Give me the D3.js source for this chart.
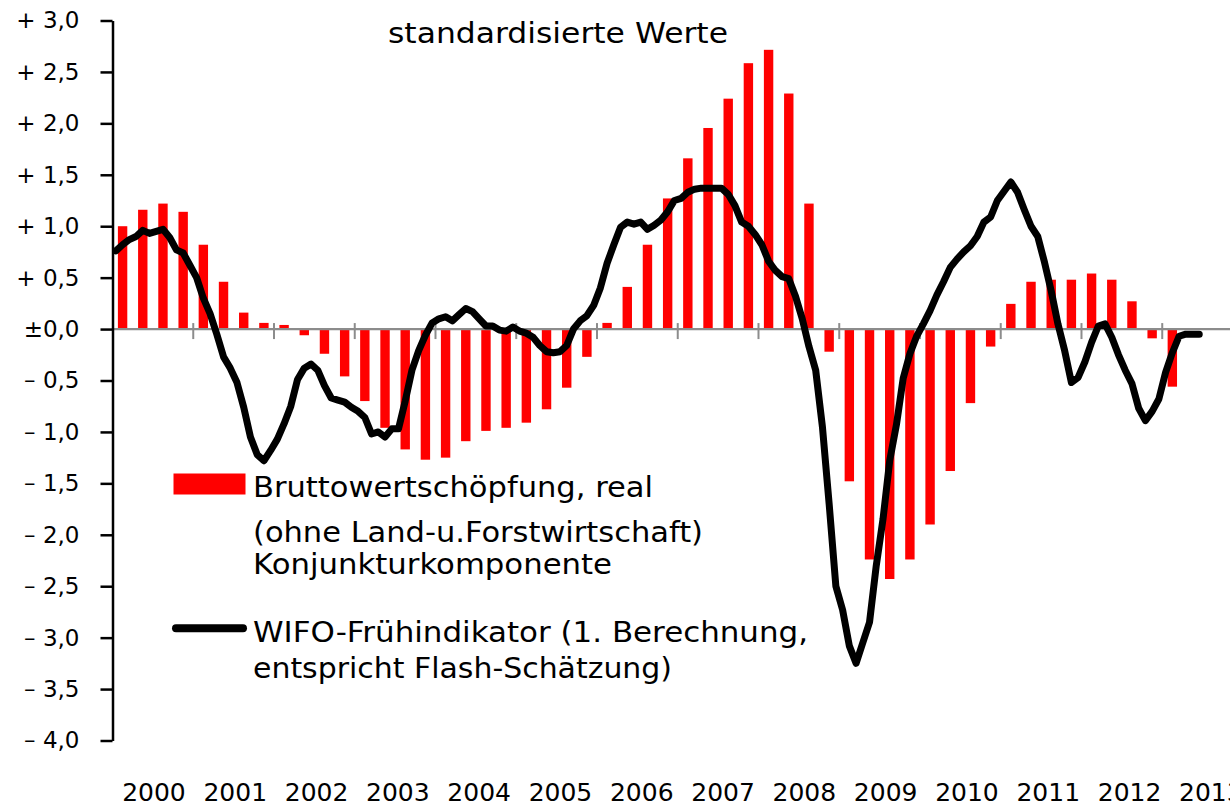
<!DOCTYPE html>
<html>
<head>
<meta charset="utf-8">
<script src="https://cdn.jsdelivr.net/npm/d3@7/dist/d3.min.js"></script>
<style>
  html, body { margin: 0; padding: 0; background: #fff; }
  svg { display: block; }
  text { font-family: "DejaVu Sans", sans-serif; fill: #000; }
</style>
</head>
<body>
<script>
// ---------- DATA ----------
const years = ["2000","2001","2002","2003","2004","2005","2006","2007","2008","2009","2010","2011","2012","2013"];
const yTicks = [-4,-3.5,-3,-2.5,-2,-1.5,-1,-0.5,0,0.5,1,1.5,2,2.5,3];

// Bruttowertschöpfung, real – quarterly (2000Q1 .. 2013Q1)
const bwsQuarterly = [
  1.00, 1.16, 1.22, 1.14,
  0.82, 0.46, 0.16, 0.06,
  0.04, -0.06, -0.24, -0.46,
  -0.70, -0.96, -1.17, -1.27,
  -1.25, -1.09, -0.99, -0.96,
  -0.91, -0.78, -0.57, -0.27,
  0.06, 0.41, 0.82, 1.27,
  1.66, 1.955, 2.24, 2.585,
  2.715, 2.29, 1.22, -0.22,
  -1.48, -2.24, -2.43, -2.24,
  -1.90, -1.38, -0.72, -0.17,
  0.245, 0.46, 0.48, 0.48,
  0.54, 0.48, 0.27, -0.09,
  -0.56
];

// WIFO-Frühindikator – monthly (2000-01 .. 2013-06)
const wifoMonthly = [
  0.76, 0.82, 0.87, 0.90, 0.96, 0.93, 0.95, 0.97, 0.89, 0.77, 0.74, 0.62,
  0.50, 0.30, 0.15, -0.05, -0.27, -0.38, -0.52, -0.76, -1.05, -1.22, -1.28, -1.18,
  -1.07, -0.92, -0.75, -0.49, -0.38, -0.34, -0.40, -0.55, -0.67, -0.69, -0.71, -0.76,
  -0.80, -0.86, -1.02, -1.00, -1.05, -0.97, -0.97, -0.70, -0.40, -0.21, -0.06, 0.06,
  0.10, 0.12, 0.08, 0.14, 0.20, 0.17, 0.10, 0.03, 0.03, -0.01, -0.02, 0.02,
  -0.02, -0.04, -0.08, -0.16, -0.22, -0.23, -0.22, -0.16, 0.00, 0.08, 0.13, 0.23,
  0.40, 0.64, 0.82, 0.99, 1.04, 1.02, 1.04, 0.97, 1.01, 1.06, 1.14, 1.25,
  1.27, 1.33, 1.36, 1.37, 1.37, 1.37, 1.37, 1.31, 1.20, 1.04, 1.00, 0.92,
  0.82, 0.66, 0.57, 0.51, 0.49, 0.32, 0.10, -0.17, -0.40, -0.95, -1.70, -2.50,
  -2.73, -3.08, -3.25, -3.05, -2.85, -2.30, -1.85, -1.28, -0.93, -0.48, -0.24, -0.07,
  0.05, 0.18, 0.33, 0.46, 0.60, 0.68, 0.75, 0.81, 0.90, 1.04, 1.09, 1.25,
  1.34, 1.43, 1.33, 1.16, 1.00, 0.90, 0.65, 0.37, 0.05, -0.21, -0.52, -0.47,
  -0.32, -0.13, 0.03, 0.05, -0.08, -0.25, -0.40, -0.53, -0.77, -0.89, -0.80, -0.68,
  -0.42, -0.23, -0.07, -0.05, -0.05, -0.05
];

const titleText = "standardisierte Werte";
const legendBars = ["Bruttowertschöpfung, real", "(ohne Land-u.Forstwirtschaft)", "Konjunkturkomponente"];
const legendLine = ["WIFO-Frühindikator (1. Berechnung,", "entspricht Flash-Schätzung)"];

// ---------- CHART ----------
const W = 1230, H = 808;
const svg = d3.select("body").append("svg").attr("width", W).attr("height", H);

const y = d3.scaleLinear().domain([-4, 3]).range([740.5, 20.5]);
const x = d3.scaleLinear().domain([0, 13.75]).range([112.5, 1222.8]); // years since 2000
const xLabel = d3.scaleBand().domain(years).range([113.3, 113.3 + 14 * 81.3]);

const fmt = v => {
  const s = Math.abs(v).toFixed(1).replace(".", ",");
  if (v > 0) return "+ " + s;
  if (v < 0) return "\u2013 " + s;
  return "\u00B10,0";
};

// bars
const barW = 9.4;
svg.append("g").selectAll("rect").data(bwsQuarterly).join("rect")
  .attr("x", (d, i) => x(i / 4 + 0.125) - barW / 2)
  .attr("width", barW)
  .attr("y", d => y(Math.max(0, d)))
  .attr("height", d => Math.abs(y(d) - y(0)))
  .attr("fill", "#ff0000");

// zero line
const y0 = y(0);
svg.append("line")
  .attr("x1", x(0)).attr("x2", W)
  .attr("y1", y0).attr("y2", y0)
  .attr("stroke", "#8c8c8c").attr("stroke-width", 2.2);

// year ticks on zero line
svg.append("g").selectAll("line").data(d3.range(1, 14)).join("line")
  .attr("x1", d => x(d)).attr("x2", d => x(d))
  .attr("y1", y0 - 6).attr("y2", y0 + 10)
  .attr("stroke", "#8c8c8c").attr("stroke-width", 2);

// y axis
const yAxis = d3.axisLeft(y).tickValues(yTicks).tickSize(12).tickSizeOuter(0).tickPadding(21).tickFormat(fmt);
const gy = svg.append("g").attr("transform", `translate(${x(0)},0)`).call(yAxis);
gy.select(".domain").attr("stroke", "#000").attr("stroke-width", 2.5);
gy.selectAll(".tick line").attr("stroke", "#000").attr("stroke-width", 2.5);
gy.selectAll(".tick text").attr("font-size", 23).attr("font-family", "DejaVu Sans").attr("fill", "#000");

// line
const line = d3.line()
  .x((d, j) => x(j / 12 + 1 / 24))
  .y(d => y(d));
svg.append("path").datum(wifoMonthly)
  .attr("d", line)
  .attr("fill", "none")
  .attr("stroke", "#000")
  .attr("stroke-width", 7)
  .attr("stroke-linejoin", "round")
  .attr("stroke-linecap", "round");

// year labels
svg.append("g").selectAll("text").data(years).join("text")
  .attr("x", d => xLabel(d) + xLabel.bandwidth() / 2)
  .attr("y", 801)
  .attr("text-anchor", "middle")
  .attr("font-size", 25)
  .text(d => d);

// title
svg.append("text").attr("x", 388).attr("y", 43).attr("font-size", 28)
  .attr("textLength", 340).attr("lengthAdjust", "spacingAndGlyphs")
  .text(titleText);

// legend
const lg = svg.append("g");
lg.append("rect").attr("x", 173.5).attr("y", 473.5).attr("width", 72).attr("height", 21).attr("fill", "#ff0000");
const lb = [[496.7, 400], [542.3, 450], [574.3, 359]];
legendBars.forEach((t, i) => {
  lg.append("text").attr("x", 253).attr("y", lb[i][0]).attr("font-size", 28)
    .attr("textLength", lb[i][1]).attr("lengthAdjust", "spacingAndGlyphs").text(t);
});
lg.append("line").attr("x1", 176).attr("x2", 243).attr("y1", 628.3).attr("y2", 628.3)
  .attr("stroke", "#000").attr("stroke-width", 8).attr("stroke-linecap", "round");
const ll = [[641.7, 555], [678.3, 419]];
legendLine.forEach((t, i) => {
  lg.append("text").attr("x", 253).attr("y", ll[i][0]).attr("font-size", 28)
    .attr("textLength", ll[i][1]).attr("lengthAdjust", "spacingAndGlyphs").text(t);
});
</script>
</body>
</html>
